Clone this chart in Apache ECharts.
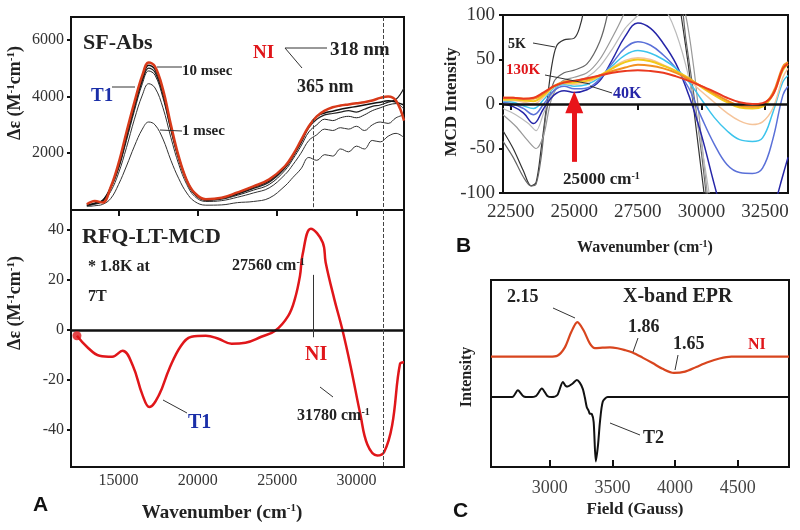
<!DOCTYPE html>
<html><head><meta charset="utf-8">
<script src="https://cdn.jsdelivr.net/npm/echarts@6/dist/echarts.min.js"></script>
<style>html,body{margin:0;padding:0;background:#fff}#c{width:800px;height:530px}</style>
</head><body><div id="c"></div>
<script>
// ---------- Panel A (top): stopped-flow absorption ----------
const absX = [13000,13500,14000,14500,15000,15500,16000,16500,16900,17300,17800,18300,18800,19300,19800,20500,21500,22500,23500,24500,25500,26000,26500,27000,27500,28000,28500,29000,29500,30000,30500,31000,31500,32000,32500,33000];
const absNI   = [200,320,260,800,1650,2750,3800,4750,5200,5050,4250,3000,1870,1050,600,380,430,620,830,1080,1550,1950,2450,2950,3300,3500,3620,3680,3720,3760,3800,3860,3950,4000,3850,3150];
const abs1ms  = [120,150,200,400,900,1550,2250,2850,3100,3000,2500,1750,1100,600,300,170,180,260,300,420,850,1150,1450,1850,1750,1950,1900,2150,2050,2250,2150,2450,2400,2600,2700,2550];
const abs2    = [150,200,300,650,1300,2200,3200,4050,4450,4300,3600,2550,1600,900,480,300,330,450,600,780,1250,1600,2000,2450,2650,2850,2800,2900,2850,2950,2800,3000,3100,3050,3250,3350];
const abs3    = [160,220,320,750,1450,2450,3500,4450,4900,4750,3950,2800,1750,1000,540,340,380,520,700,900,1400,1800,2250,2750,3000,3200,3150,3250,3300,3250,3350,3500,3600,3700,3750,3550];
const abs4    = [170,230,330,780,1500,2550,3600,4550,5000,4850,4050,2850,1800,1030,560,350,400,560,760,980,1480,1880,2350,2900,3200,3350,3400,3450,3500,3450,3550,3650,3700,3800,3900,4300];
const abs10ms = [175,240,340,800,1550,2600,3680,4620,5100,4950,4150,2900,1850,1050,580,360,420,580,800,1030,1520,1920,2400,2950,3300,3420,3480,3550,3600,3650,3700,3750,3800,3850,3800,3700];
const absYTicks = [2000,4000,6000];

// ---------- Panel A (bottom): RFQ-LT-MCD ----------
const mcdX = [12375,13000,13800,14600,15250,15900,16500,16940,17560,18200,18940,19600,20500,21300,22125,23000,24000,24875,25700,26120,26440,26600,27125,27875,28060,28600,29100,29625,30250,30690,31310,31750,32250,32750,33000];
const mcdV = [-2.4,-6.8,-10.4,-10.8,-8.4,-14.4,-26,-31,-26,-15.6,-6.4,-2.8,-2.4,-3.6,-5.6,-5.2,-2.8,-0.4,5.6,12.4,21.6,30,40.5,35,27,12.4,0.4,-14.4,-34,-46,-50.4,-49,-38.4,-13.6,-13];
const mcdYTicks = [-40,-20,0,20,40];
const wnTicksA = [15000,20000,25000,30000];

// ---------- Panel B: VTVH MCD temperature series ----------
const bX = [22200,22600,23000,23400,23800,24200,24600,25000,25500,26000,26500,27000,27500,28000,28500,29000,29500,30000,30500,31000,31500,32000,32400,32800,33200,33400];
const b130K  = [7,7,6,7,13,20,24,26,29,32,35,37,38,37,35,31,26,20,14,7,2,0,1,10,40,45];
const bOrange= [7,7,6,6,12,20,25,26,28,32,37,41,44,43,40,35,28,20,12,4,-2,-3,-1,12,42,47];
const bYellow= [5,5,4,3,10,20,24,24,26,32,40,47,50,48,43,37,29,19,10,2,-4,-5,-3,10,38,45];
const bPeach = [4,4,2,0,8,19,23,22,24,31,41,49,52,50,44,37,27,14,2,-10,-19,-23,-20,-5,30,40];
const bCyan  = [3,2,-2,-5,5,18,22,20,22,30,43,55,60,57,50,40,25,5,-15,-30,-40,-42,-38,-10,25,32];
const bBlue  = [2,0,-5,-12,0,15,20,17,18,28,46,63,70,66,55,40,18,-15,-45,-68,-77,-78,-72,-40,10,20];
const b40K   = [0,-3,-10,-22,-5,10,15,13,16,26,50,76,91,85,68,45,10,-35,-90,-140,-170,-170,-150,-120,-80,-60];
const b5KX = [22200,22600,23000,23300,23500,23700,23900,24100,24300,24600,25000,25200,25400,25600,27000,28900,29200,29500,29800,30100,30400];
const b5KV = [-30,-50,-75,-92,-88,-50,-5,40,65,72,74,85,110,160,250,160,100,40,-30,-100,-170];
const bG2X = [22200,22600,23000,23300,23500,23700,23900,24200,24600,25000,25500,26000,26300,26600,28000,29000,29400,29800,30100,30400];
const bG2V = [-42,-60,-82,-92,-90,-60,-10,25,35,38,45,70,100,150,200,150,70,-10,-80,-160];
const bG3X = [22200,22700,23200,23500,23800,24100,24500,25000,25500,26000,26500,26900,27300,28500,29300,29700,30000,30300];
const bG3V = [-12,-25,-42,-50,-35,5,25,30,35,50,75,98,130,170,110,40,-40,-120];
const bG4X = [22200,22700,23200,23500,23800,24200,24600,25000,25500,26000,26500,27000,27500,28000,28500,29000,29500,29900,30300];
const bG4V = [-5,-12,-22,-30,-10,15,24,26,30,42,62,85,100,120,110,80,30,-30,-100];
const bXTicks = [22500,25000,27500,30000,32500];

// ---------- Panel C: X-band EPR ----------
const eprNIX = [2530,2800,3000,3060,3120,3170,3220,3270,3320,3360,3420,3480,3540,3600,3660,3740,3820,3900,3990,4080,4170,4260,4355,4450,4600,4910];
const eprNIV = [59,59,59,59.5,64,72,77.5,73,66,63.6,63.8,64,63.5,62.5,61.2,58.5,55.6,52.5,50.3,51,53.5,56,58,59,59,59];
const eprT2X = [2530,2700,2745,2790,2840,2890,2936,2980,3016,3060,3104,3125,3143,3180,3215,3240,3263,3280,3295,3310,3319,3335,3350,3367,3385,3400,3423,3462,3600,4910];
const eprT2V = [37.4,37.4,41,37.8,37.4,38,42,38,37.4,38.5,45.5,43.5,43,44.5,46.5,45,41.8,37,32,30,28.5,28.3,24,3,12,24,35,37.4,37.4,37.4];
const fieldTicks = [3000,3500,4000,4500];

const zip = (xs, ys) => xs.map((x, i) => [x, ys[i]]);
const SERIF = 'Liberation Serif';
const plain = v => String(v);
const tickLbl = (size) => ({fontFamily: SERIF, fontSize: size, color: '#333', formatter: plain});

const chart = echarts.init(document.getElementById('c'));

function line(name, xi, xs, ys, color, width, extra) {
  return Object.assign({
    type: 'line', name, xAxisIndex: xi, yAxisIndex: xi, data: zip(xs, ys),
    showSymbol: false, smooth: 0.4, lineStyle: {color, width}, itemStyle: {color},
    silent: true, z: 3
  }, extra || {});
}

function txt(x, y, text, size, opts) {
  opts = opts || {};
  return {
    type: 'text', x, y, rotation: opts.rot || 0, z: 100,
    style: {
      text, fontFamily: opts.family || SERIF, fontSize: size,
      fontWeight: opts.weight || 'bold', fill: opts.color || '#222',
      textAlign: opts.align || 'left', textVerticalAlign: 'middle', verticalAlign: 'middle',
      rich: {
        s: {fontFamily: SERIF, fontSize: Math.round(size * 0.6), fontWeight: opts.weight || 'bold', fill: opts.color || '#222', verticalAlign: 'top', padding: [0,0,Math.round(size*0.45),0]},
        n: {fontFamily: SERIF, fontSize: size, fontWeight: opts.weight || 'bold', fill: opts.color || '#222'}
      }
    }
  };
}
function seg(x1, y1, x2, y2, w, c) {
  return {type: 'line', z: 100, shape: {x1, y1, x2, y2}, style: {stroke: c || '#333', lineWidth: w || 1}};
}

const dashed = {type: 'dashed', color: '#444', width: 1};

const option = {
  animation: false,
  backgroundColor: '#fff',
  grid: [
    {left: 71, top: 17, width: 333, height: 193, show: true, borderColor: '#111', borderWidth: 2},
    {left: 71, top: 210, width: 333, height: 257, show: true, borderColor: '#111', borderWidth: 2},
    {left: 503, top: 15, width: 285, height: 178, show: true, borderColor: '#111', borderWidth: 2},
    {left: 491, top: 280, width: 298, height: 187, show: true, borderColor: '#111', borderWidth: 2}
  ],
  xAxis: [
    {type: 'value', gridIndex: 0, min: 12000, max: 33000, position: 'top',
     axisLine: {show: false}, splitLine: {show: false}, axisLabel: {show: false},
     axisTick: {inside: true, length: 6, lineStyle: {color: '#111', width: 2}, customValues: wnTicksA}},
    {type: 'value', gridIndex: 1, min: 12000, max: 33000,
     axisLine: {show: false}, splitLine: {show: false},
     axisLabel: Object.assign(tickLbl(16), {customValues: wnTicksA, margin: 6}),
     axisTick: {show: false}},
    {type: 'value', gridIndex: 2, min: 22200, max: 33400,
     axisLine: {show: false}, splitLine: {show: false},
     axisLabel: Object.assign(tickLbl(19), {customValues: bXTicks, margin: 10}),
     axisTick: {show: true, length: 6, lineStyle: {color: '#111', width: 2}, customValues: bXTicks}},
    {type: 'value', gridIndex: 3, min: 2530, max: 4910,
     axisLine: {show: false}, splitLine: {show: false},
     axisLabel: Object.assign(tickLbl(18), {customValues: fieldTicks, margin: 12, color: '#444'}),
     axisTick: {inside: true, length: 7, lineStyle: {color: '#111', width: 2}, customValues: fieldTicks}}
  ],
  yAxis: [
    {type: 'value', gridIndex: 0, min: 0, max: 6800,
     axisLine: {show: false}, splitLine: {show: false},
     axisLabel: Object.assign(tickLbl(16), {customValues: absYTicks, margin: 7}),
     axisTick: {length: 4, lineStyle: {color: '#111', width: 2}, customValues: absYTicks}},
    {type: 'value', gridIndex: 1, min: -55, max: 48,
     axisLine: {show: false}, splitLine: {show: false},
     axisLabel: Object.assign(tickLbl(16), {customValues: mcdYTicks, margin: 7}),
     axisTick: {length: 4, lineStyle: {color: '#111', width: 2}, customValues: mcdYTicks}},
    {type: 'value', gridIndex: 2, min: -100, max: 100, interval: 50,
     axisLine: {show: false}, splitLine: {show: false},
     axisLabel: Object.assign(tickLbl(19), {margin: 8}),
     axisTick: {length: 4, lineStyle: {color: '#111', width: 2}}},
    {type: 'value', gridIndex: 3, min: 0, max: 100,
     axisLine: {show: false}, splitLine: {show: false}, axisLabel: {show: false}, axisTick: {show: false}}
  ],
  series: [
    // Panel A top
    line('1 msec', 0, absX, abs1ms, '#333', 1),
    line('t2', 0, absX, abs2, '#333', 1),
    line('t3', 0, absX, abs3, '#222', 1),
    line('t4', 0, absX, abs4, '#222', 1.2),
    line('10 msec', 0, absX, abs10ms, '#111', 1.5),
    line('NI', 0, absX, absNI, '#d83a1a', 2.5, {
      z: 4,
      markLine: {silent: true, symbol: 'none', label: {show: false}, lineStyle: dashed,
        data: [
          [{coord: [27300, 3200]}, {coord: [27300, 0]}],
          [{coord: [31700, 6800]}, {coord: [31700, 0]}]
        ]}
    }),
    // Panel A bottom
    line('MCD', 1, mcdX, mcdV, '#e0161a', 2.5, {
      z: 4,
      markLine: {silent: true, symbol: 'none', label: {show: false},
        data: [
          [{coord: [12000, 0], lineStyle: {type: 'solid', color: '#111', width: 2.5}}, {coord: [33000, 0]}],
          [{coord: [27300, 22], lineStyle: {type: 'solid', color: '#333', width: 1}}, {coord: [27300, -3]}],
          [{coord: [31700, 48], lineStyle: dashed}, {coord: [31700, -55]}]
        ]}
    }),
    {type: 'scatter', xAxisIndex: 1, yAxisIndex: 1, data: [[mcdX[0], mcdV[0]]], symbolSize: 9,
     itemStyle: {color: '#e0161a'}, silent: true, z: 5},
    // Panel B
    line('5K', 2, b5KX, b5KV, '#333', 1.2, {smooth: 0.3}),
    line('g2', 2, bG2X, bG2V, '#666', 1.2, {smooth: 0.3}),
    line('g3', 2, bG3X, bG3V, '#999', 1.2, {smooth: 0.3}),
    line('g4', 2, bG4X, bG4V, '#bbb', 1.2, {smooth: 0.3}),
    line('40K', 2, bX, b40K, '#2626a8', 1.5),
    line('blue', 2, bX, bBlue, '#5a70d8', 1.5),
    line('cyan', 2, bX, bCyan, '#3cc4ec', 1.5),
    line('peach', 2, bX, bPeach, '#f5c49a', 1.5),
    line('yellow', 2, bX, bYellow, '#f2c81a', 2),
    line('orange', 2, bX, bOrange, '#f29020', 2),
    line('130K', 2, bX, b130K, '#ea3a20', 2, {
      z: 5,
      markLine: {silent: true, label: {show: false},
        data: [
          [{coord: [22200, 0], symbol: 'none', lineStyle: {type: 'solid', color: '#111', width: 2.5}}, {coord: [33400, 0], symbol: 'none'}],
          [{coord: [25000, -65], symbol: 'none', lineStyle: {type: 'solid', color: '#e8141a', width: 5}}, {coord: [25000, 2], symbol: 'triangle', symbolSize: [18, 22]}]
        ]}
    }),
    // Panel C
    line('NI EPR', 3, eprNIX, eprNIV, '#d8451e', 2.2, {smooth: 0.3}),
    line('T2 EPR', 3, eprT2X, eprT2V, '#111', 2, {smooth: 0.25})
  ],
  graphic: [
    // Panel A top annotations
    txt(83, 43, 'SF-Abs', 22),
    txt(253, 53, 'NI', 19, {color: '#e0161a'}),
    seg(285, 48, 327, 48), seg(285, 48, 302, 68),
    txt(330, 50, '318 nm', 19),
    txt(297, 87, '365 nm', 18),
    txt(91, 96, 'T1', 19, {color: '#1a2ea8'}),
    seg(112, 87, 135, 87),
    txt(182, 71, '10 msec', 15),
    seg(157, 67, 182, 67),
    txt(182, 131, '1 msec', 15),
    seg(160, 130, 182, 131),
    // Panel A bottom annotations
    txt(82, 237, 'RFQ-LT-MCD', 22),
    txt(88, 267, '* 1.8K at', 16),
    txt(88, 297, '7T', 16),
    txt(232, 266, '{n|27560 cm}{s|-1}', 16),
    txt(305, 355, 'NI', 20, {color: '#e0161a'}),
    seg(320, 387, 333, 397),
    txt(297, 416, '{n|31780 cm}{s|-1}', 16),
    txt(188, 423, 'T1', 20, {color: '#1a2ea8'}),
    seg(163, 400, 187, 413),
    // Panel A axis titles
    txt(15, 93, '{n|Δε (M}{s|-1}{n|cm}{s|-1}{n|)}', 18, {rot: Math.PI / 2, align: 'center'}),
    txt(15, 303, '{n|Δε (M}{s|-1}{n|cm}{s|-1}{n|)}', 18, {rot: Math.PI / 2, align: 'center'}),
    txt(222, 513, '{n|Wavenumber (cm}{s|-1}{n|)}', 19, {align: 'center'}),
    txt(33, 505, 'A', 21, {family: 'Liberation Sans', color: '#111'}),
    // Panel B annotations
    txt(508, 44, '5K', 14),
    seg(533, 43, 555, 47),
    txt(506, 70, '130K', 15, {color: '#e0161a'}),
    seg(545, 75, 590, 84),
    txt(613, 94, '40K', 16, {color: '#2626a8'}),
    seg(612, 93, 590, 86),
    txt(563, 180, '{n|25000 cm}{s|-1}', 17),
    txt(452, 102, 'MCD Intensity', 17, {rot: Math.PI / 2, align: 'center'}),
    txt(645, 248, '{n|Wavenumber (cm}{s|-1}{n|)}', 16, {align: 'center'}),
    txt(456, 246, 'B', 21, {family: 'Liberation Sans', color: '#111'}),
    // Panel C annotations
    txt(623, 297, 'X-band EPR', 20),
    txt(507, 297, '2.15', 18),
    seg(553, 308, 575, 318),
    txt(628, 327, '1.86', 18),
    seg(638, 338, 633, 352),
    txt(673, 344, '1.65', 18),
    seg(678, 355, 675, 370),
    txt(748, 345, 'NI', 16, {color: '#e0161a'}),
    txt(643, 438, 'T2', 18),
    seg(610, 423, 640, 435),
    txt(467, 377, 'Intensity', 16, {rot: Math.PI / 2, align: 'center'}),
    txt(635, 510, 'Field (Gauss)', 17, {align: 'center'}),
    txt(453, 511, 'C', 21, {family: 'Liberation Sans', color: '#111'})
  ]
};
chart.setOption(option);
</script>
</body></html>
